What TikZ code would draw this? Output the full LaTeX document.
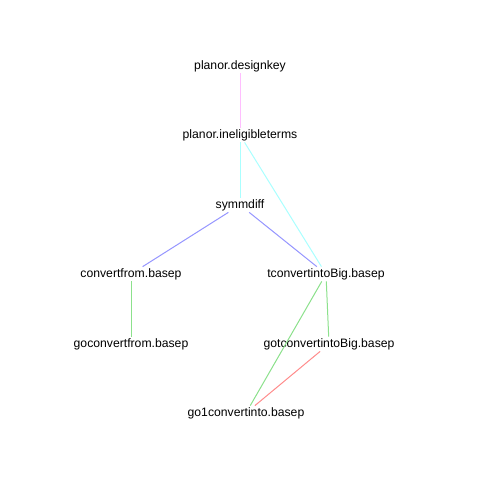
\documentclass[tikz,border=0pt]{standalone}
\usepackage{fontspec}
\setmainfont{Liberation Sans}
\begin{document}
\begin{tikzpicture}[x=1pt,y=-1pt,
  lbl/.style={inner sep=1.5pt, font=\fontsize{12.2}{14}\selectfont},
  edge/.style={line width=1pt}]
\definecolor{epink}{RGB}{255,190,255}
\definecolor{ecyan}{RGB}{170,255,255}
\definecolor{eblue}{RGB}{150,150,255}
\definecolor{egreen}{RGB}{140,225,140}
\definecolor{ered}{RGB}{255,140,140}
\useasboundingbox[fill=white] (0,0) rectangle (480,480);
\node[lbl] (dk) at (240,66) {planor.designkey};
\node[lbl] (ie) at (240,135) {planor.ineligibleterms};
\node[lbl] (sd) at (240,205) {symmdiff};
\node[lbl] (cf) at (131,274) {convertfrom.basep};
\node[lbl] (tc) at (326,274) {tconvertintoBig.basep};
\node[lbl] (gcf) at (131,344) {goconvertfrom.basep};
\node[lbl] (gtc) at (329,344) {gotconvertintoBig.basep};
\node[lbl] (g1) at (246,413) {go1convertinto.basep};
\draw[edge,epink] (dk) -- (ie);
\draw[edge,ecyan] (ie) -- (sd);
\draw[edge,ecyan] (ie) -- (tc);
\draw[edge,eblue] (sd) -- (cf);
\draw[edge,eblue] (sd) -- (tc);
\draw[edge,egreen] (cf) -- (gcf);
\draw[edge,egreen] (tc) -- (gtc);
\draw[edge,egreen] (tc) -- (g1);
\draw[edge,ered] (gtc) -- (g1);
\end{tikzpicture}
\end{document}
